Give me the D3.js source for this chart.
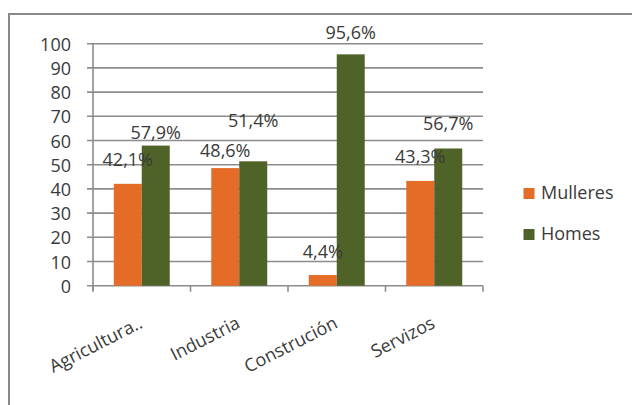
<!DOCTYPE html>
<html>
<head>
<meta charset="utf-8">
<script src="https://cdn.jsdelivr.net/npm/d3@7"></script>
<style>
  html, body { margin: 0; padding: 0; background: #fff; }
  svg { display: block; font-family: "Open Sans", sans-serif; }
</style>
</head>
<body>
<svg id="chart" width="632" height="405"></svg>
<script>
// ---- data ----
const categories = ["Agricultura..", "Industria", "Construción", "Servizos"];
const seriesNames = ["Mulleres", "Homes"];
const mulleres = [42.1, 48.6, 4.4, 43.3];
const homes = [57.9, 51.4, 95.6, 56.7];
const mulleresLabels = ["42,1%", "48,6%", "4,4%", "43,3%"];
const homesLabels = ["57,9%", "51,4%", "95,6%", "56,7%"];
const yTicks = [0, 10, 20, 30, 40, 50, 60, 70, 80, 90, 100];

// ---- styles / layout ----
const colors = { Mulleres: "#E46C27", Homes: "#4F6228" };
const textColor = "#3a3a3a";
const gridColor = "#8c8c8c";
const fontSize = 18;
const plot = { left: 93, right: 483, top: 43.7, bottom: 285.7 };
// manual label nudges (Excel placed them to avoid overlaps)
const labelNudge = { Mulleres: [-18, -11, -17, -18], Homes: [-7, -34, -15, -18] };

const svg = d3.select("#chart");

// outer border
svg.append("rect")
  .attr("x", 9).attr("y", 14)
  .attr("width", 700).attr("height", 500)
  .attr("fill", "none")
  .attr("stroke", "#8a8a8a")
  .attr("stroke-width", 2);

const x0 = d3.scaleBand().domain(categories).range([plot.left, plot.right]).padding(0);
const groupW = x0.bandwidth() * 0.574;
const x1 = d3.scaleBand().domain(seriesNames)
  .range([(x0.bandwidth() - groupW) / 2, (x0.bandwidth() + groupW) / 2]).padding(0);
const y = d3.scaleLinear().domain([0, 100]).range([plot.bottom, plot.top]);

// gridlines
svg.append("g").selectAll("line").data(yTicks).join("line")
  .attr("x1", plot.left - 6).attr("x2", plot.right)
  .attr("y1", d => y(d)).attr("y2", d => y(d))
  .attr("stroke", gridColor).attr("stroke-width", 1.6);

// y axis line
svg.append("line")
  .attr("x1", plot.left).attr("x2", plot.left)
  .attr("y1", plot.top).attr("y2", plot.bottom + 5)
  .attr("stroke", gridColor).attr("stroke-width", 1.6);

// x category ticks
const tickXs = categories.map(c => x0(c)).concat([plot.right]);
svg.append("g").selectAll("line").data(tickXs).join("line")
  .attr("x1", d => d).attr("x2", d => d)
  .attr("y1", plot.bottom).attr("y2", plot.bottom + 6)
  .attr("stroke", gridColor).attr("stroke-width", 1.6);

// y tick labels
svg.append("g").selectAll("text").data(yTicks).join("text")
  .attr("x", 71).attr("y", d => y(d))
  .attr("text-anchor", "end")
  .attr("dominant-baseline", "central")
  .attr("font-size", fontSize)
  .attr("fill", textColor)
  .text(d => d);

// bars
const seriesData = [
  { name: "Mulleres", values: mulleres, labels: mulleresLabels },
  { name: "Homes", values: homes, labels: homesLabels }
];
seriesData.forEach(s => {
  const g = svg.append("g");
  g.selectAll("rect").data(s.values).join("rect")
    .attr("x", (d, i) => x0(categories[i]) + x1(s.name))
    .attr("y", d => y(d))
    .attr("width", x1.bandwidth())
    .attr("height", d => y(0) - y(d))
    .attr("fill", colors[s.name]);
});
// bar value labels
seriesData.forEach(s => {
  svg.append("g").selectAll("text").data(s.values).join("text")
    .attr("x", (d, i) => x0(categories[i]) + x1(s.name) + x1.bandwidth() / 2)
    .attr("y", (d, i) => y(d) + labelNudge[s.name][i])
    .attr("text-anchor", "middle")
    .attr("font-size", fontSize)
    .attr("fill", textColor)
    .text((d, i) => s.labels[i]);
});

// category labels (rotated)
svg.append("g").selectAll("text").data(categories).join("text")
  .attr("transform", c => `translate(${x0(c) + x0.bandwidth() / 2 + 2},327) rotate(-27)`)
  .attr("text-anchor", "end")
  .attr("font-size", fontSize)
  .attr("fill", textColor)
  .text(c => c);

// legend
const legend = svg.append("g");
seriesNames.forEach((n, i) => {
  const ly = 188 + i * 41;
  legend.append("rect")
    .attr("x", 523.5).attr("y", ly)
    .attr("width", 11).attr("height", 11)
    .attr("fill", colors[n]);
  legend.append("text")
    .attr("x", 541).attr("y", ly + 11)
    .attr("font-size", fontSize)
    .attr("fill", textColor)
    .text(n);
});
</script>
</body>
</html>
